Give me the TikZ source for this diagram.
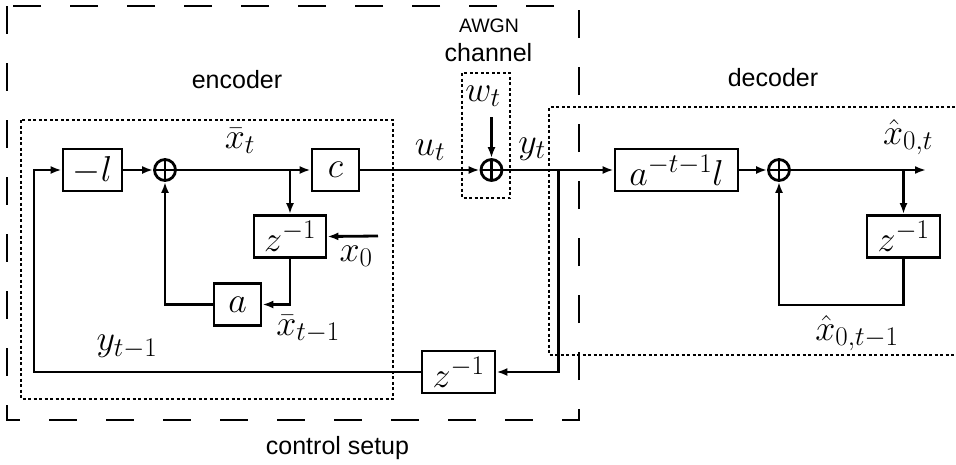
\documentclass[tikz,border=0pt]{standalone}
\usepackage{fix-cm}
\usepackage[no-math]{fontspec}
\newfontfamily\arialfont{Liberation Sans}
\usetikzlibrary{arrows.meta}
\DeclareMathSizes{36}{36}{27}{20}
\newcommand\mathsz{\fontsize{36}{40}\selectfont}
\newcommand\textsz{\arialfont\fontsize{25}{28}\selectfont}

\begin{document}
\begin{tikzpicture}[x=1pt,y=-1pt,
    blk/.style={draw,line width=2.8pt,inner sep=0pt,minimum height=42pt,font=\mathsz},
    sumnode/.style={circle,draw,line width=2.8pt,inner sep=0pt,minimum size=21pt,
      path picture={\draw[line width=2.8pt]
        (path picture bounding box.north) -- (path picture bounding box.south)
        (path picture bounding box.west) -- (path picture bounding box.east);}},
    sig/.style={line width=2.8pt,-{Latex[length=11pt,width=8pt]}},
    lbl/.style={font=\mathsz,inner sep=0pt},
    txt/.style={font=\textsz,inner sep=0pt},
    grp/.style={line width=1.2pt,dash pattern=on 3pt off 2.5pt},
    setup/.style={line width=1.8pt,dash pattern=on 28pt off 29pt}]

    \useasboundingbox (0,0) rectangle (956,464);

    % рамки
    \draw[setup] (7,6) rectangle (579,420);
    \draw[grp] (21,120) rectangle (393,399);
    \draw[grp] (462,73) rectangle (510,198);
    \draw[grp] (955,107) -- (549,107) -- (549,355) -- (955,355);

    % блоки
    \node[blk,minimum width=59pt] (gl) at (92.5,170) {$-l$};
    \node[sumnode] (se) at (165,170) {};
    \node[blk,minimum width=47pt] (gc) at (335.5,170) {$c$};
    \node[blk,minimum width=72pt] (de) at (290,236.5) {$z^{-1}$};
    \node[blk,minimum width=47pt] (ga) at (237.5,304.5) {$a$};
    \node[sumnode] (sc) at (491.5,170) {};
    \node[blk,minimum width=73pt] (df) at (458.5,372) {$z^{-1}$};
    \node[blk,minimum width=123pt] (gd) at (676.5,170) {$a^{-t-1}l$};
    \node[sumnode] (sd) at (779,170) {};
    \node[blk,minimum width=73pt] (dd) at (903.5,236.5) {$z^{-1}$};

    % точки розгалуження
    \coordinate (be) at (290,170);
    \coordinate (by) at (558.3,170);
    \coordinate (bd) at (903.5,170);
    \coordinate (out) at (926,170);
    \coordinate (x0) at (378,236);
    \coordinate (fb) at (34,372);
    \coordinate (wtop) at (491.5,117);
    \coordinate (dfb) at (903.5,305);

    % з'єднання
    \draw[sig] (df.west) -- (fb) |- (gl.west);
    \draw[sig] (gl.east) -- (se.west);
    \draw[sig] (se.east) -- (gc.west);
    \draw[sig] (be) -- (de.north);
    \draw[sig] (x0) -- (de.east);
    \draw[sig] (de.south) |- (ga.east);
    \draw[sig] (ga.west) -| (se.south);
    \draw[sig] (gc.east) -- (sc.west);
    \draw[sig] (wtop) -- (sc.north);
    \draw[sig] (sc.east) -- (gd.west);
    \draw[sig] (by) |- (df.east);
    \draw[sig] (gd.east) -- (sd.west);
    \draw[sig] (sd.east) -- (out);
    \draw[sig] (bd) -- (dd.north);
    \draw[sig] (dd.south) -- (dfb) -| (sd.south);

    % сигнали
    \node[lbl] (xt) at (240,141) {$\bar{x}_t$};
    \node[lbl] (ut) at (430,150) {$u_t$};
    \node[lbl] (wt) at (483,96) {$w_t$};
    \node[lbl] (yt) at (532,149) {$y_t$};
    \node[lbl] (x0l) at (356,256) {$x_0$};
    \node[lbl] (xtm) at (308,329) {$\bar{x}_{t-1}$};
    \node[lbl] (ytm) at (127,347) {$y_{t-1}$};
    \node[lbl] (xh) at (908,137) {$\hat{x}_{0,t}$};
    \node[lbl] (xhm) at (857,333) {$\hat{x}_{0,t-1}$};

    % підписи
    \node[txt] (enc) at (237,80) {encoder};
    \node[txt,font=\arialfont\fontsize{19.5}{22}\selectfont] (awgn) at (489,26) {AWGN};
    \node[txt] (chn) at (488.5,53) {channel};
    \node[txt] (dec) at (773,78) {decoder};
    \node[txt] (ctl) at (337.5,448) {control setup};
\end{tikzpicture}
\end{document}
